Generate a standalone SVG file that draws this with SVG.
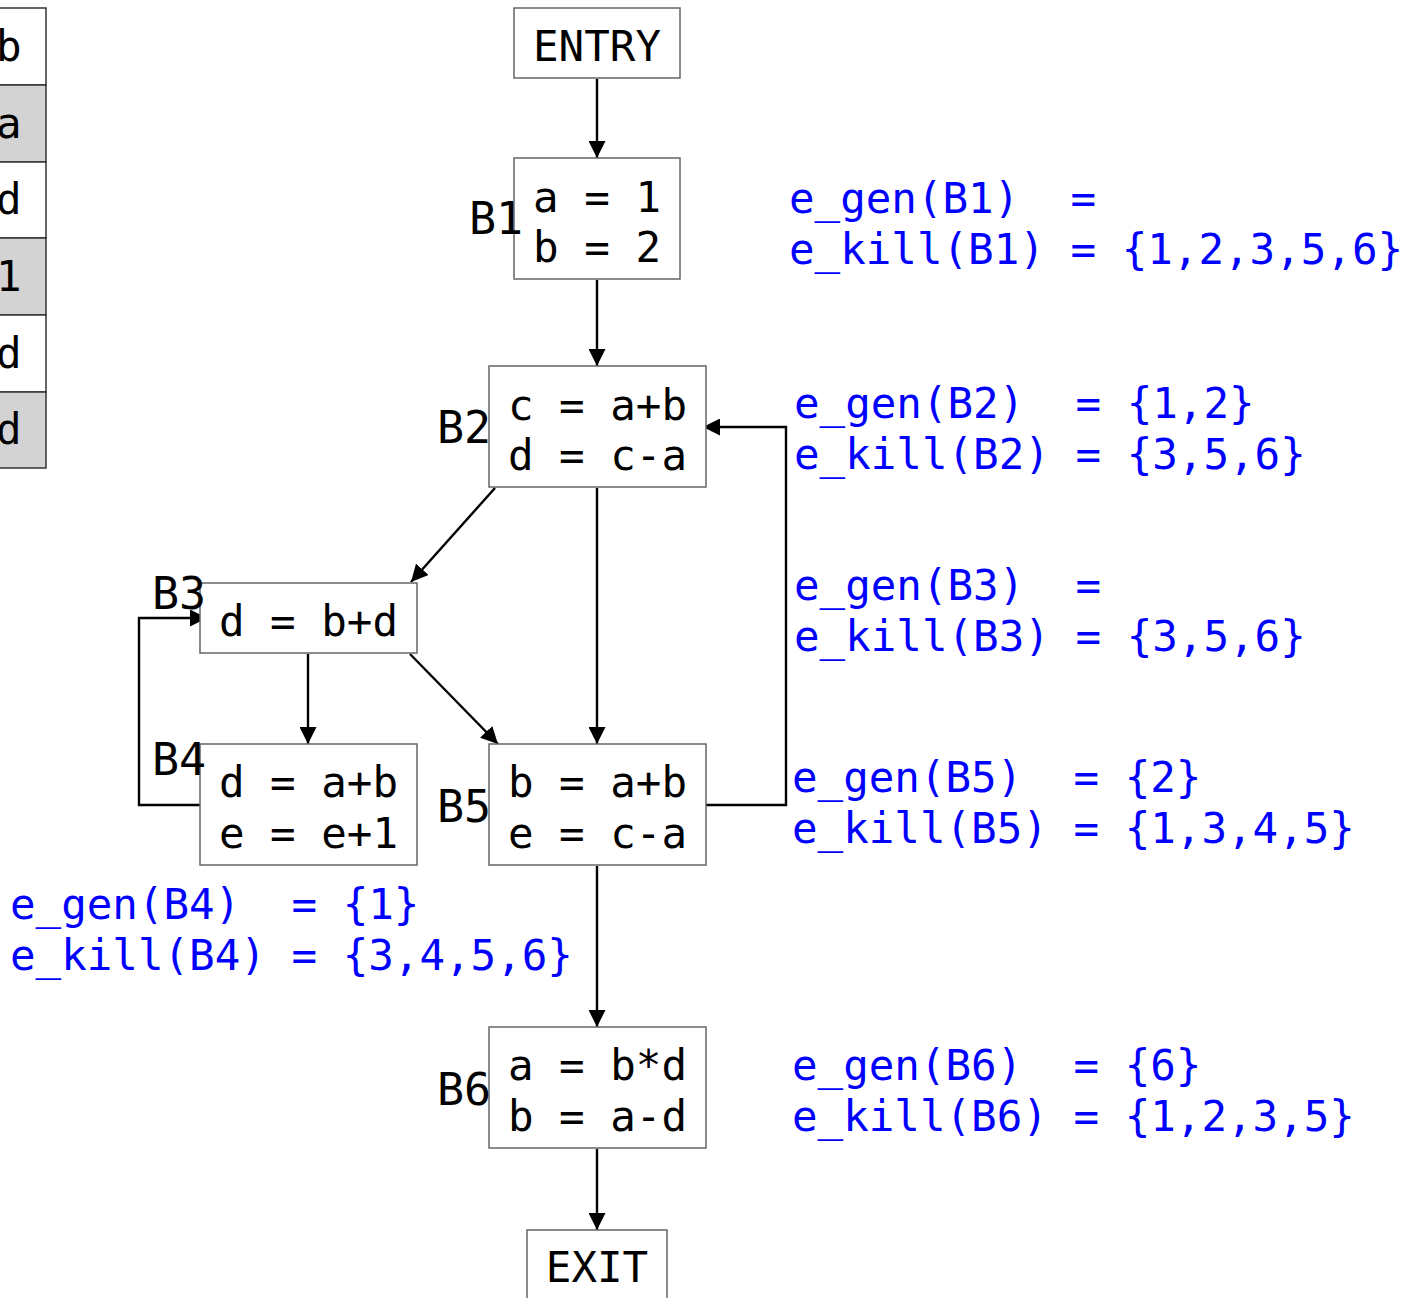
<svg xmlns="http://www.w3.org/2000/svg" width="1407" height="1298" viewBox="0 0 1407 1298">
  <style>
    .box { fill: #ffffff; stroke: #666666; stroke-width: 1.5; }
    .cell { stroke: #333333; stroke-width: 1.5; }
    .code { font-family: "DejaVu Sans Mono", "Liberation Mono", monospace; font-size: 42.5px; fill: #000000; }
    .label { font-family: "DejaVu Sans Mono", "Liberation Mono", monospace; font-size: 45px; fill: #000000; }
    .mid { text-anchor: middle; }
    .set { font-family: "DejaVu Sans Mono", "Liberation Mono", monospace; font-size: 42.5px; fill: #0000ff; white-space: pre; }
    .edge { fill: none; stroke: #000000; stroke-width: 2.4; }
  </style>
  <defs>
    <marker id="arrow" markerUnits="userSpaceOnUse" markerWidth="17" markerHeight="17" refX="17" refY="8.5" orient="auto">
      <path d="M0,0 L17,8.5 L0,17 z" fill="#000000"/>
    </marker>
  </defs>
  <rect width="1407" height="1298" fill="#ffffff"/>

  <!-- definition column at the left edge -->
  <g id="def-table">
    <rect class="cell" x="-10" y="8" width="56" height="77" fill="#ffffff"/>
    <rect class="cell" x="-10" y="85" width="56" height="77" fill="#d3d3d3"/>
    <rect class="cell" x="-10" y="162" width="56" height="76" fill="#ffffff"/>
    <rect class="cell" x="-10" y="238" width="56" height="77" fill="#d3d3d3"/>
    <rect class="cell" x="-10" y="315" width="56" height="77" fill="#ffffff"/>
    <rect class="cell" x="-10" y="392" width="56" height="76" fill="#d3d3d3"/>
    <text class="code" x="-4" y="61">b</text>
    <text class="code" x="-4" y="138">a</text>
    <text class="code" x="-4" y="214">d</text>
    <text class="code" x="-4" y="291">1</text>
    <text class="code" x="-4" y="368">d</text>
    <text class="code" x="-4" y="444">d</text>
  </g>

  <!-- connectors -->
  <g id="edges">
    <line class="edge" x1="597" y1="79" x2="597" y2="158" marker-end="url(#arrow)"/>
    <line class="edge" x1="597" y1="280" x2="597" y2="366" marker-end="url(#arrow)"/>
    <line class="edge" x1="495" y1="488" x2="411" y2="582" marker-end="url(#arrow)"/>
    <line class="edge" x1="597" y1="488" x2="597" y2="744" marker-end="url(#arrow)"/>
    <line class="edge" x1="308" y1="654" x2="308" y2="744" marker-end="url(#arrow)"/>
    <line class="edge" x1="410" y1="654" x2="498" y2="744" marker-end="url(#arrow)"/>
    <polyline class="edge" points="209,805 139,805 139,618 207,618" marker-end="url(#arrow)"/>
    <polyline class="edge" points="700,805 786,805 786,427 703,427" marker-end="url(#arrow)"/>
    <line class="edge" x1="597" y1="866" x2="597" y2="1027" marker-end="url(#arrow)"/>
    <line class="edge" x1="597" y1="1149" x2="597" y2="1230" marker-end="url(#arrow)"/>
  </g>

  <!-- basic blocks -->
  <g id="entry">
    <rect class="box" x="514" y="8" width="166" height="70"/>
    <text class="code mid" x="597" y="61">ENTRY</text>
  </g>

  <g id="B1">
    <rect class="box" x="514" y="158" width="166" height="121"/>
    <text class="code mid" x="597" y="212">a = 1</text>
    <text class="code mid" x="597" y="262">b = 2</text>
    <text class="label" x="469" y="234">B1</text>
  </g>

  <g id="B2">
    <rect class="box" x="489" y="366" width="217" height="121"/>
    <text class="code mid" x="597.5" y="420">c = a+b</text>
    <text class="code mid" x="597.5" y="470">d = c-a</text>
    <text class="label" x="437" y="443">B2</text>
  </g>

  <g id="B3">
    <rect class="box" x="200" y="583" width="217" height="70"/>
    <text class="code mid" x="308.5" y="636">d = b+d</text>
    <text class="label" x="152" y="609">B3</text>
  </g>

  <g id="B4">
    <rect class="box" x="200" y="744" width="217" height="121"/>
    <text class="code mid" x="308.5" y="797">d = a+b</text>
    <text class="code mid" x="308.5" y="848">e = e+1</text>
    <text class="label" x="152" y="775">B4</text>
  </g>

  <g id="B5">
    <rect class="box" x="489" y="744" width="217" height="121"/>
    <text class="code mid" x="597.5" y="797">b = a+b</text>
    <text class="code mid" x="597.5" y="848">e = c-a</text>
    <text class="label" x="437" y="822">B5</text>
  </g>

  <g id="B6">
    <rect class="box" x="489" y="1027" width="217" height="121"/>
    <text class="code mid" x="597.5" y="1080">a = b*d</text>
    <text class="code mid" x="597.5" y="1131">b = a-d</text>
    <text class="label" x="437" y="1105">B6</text>
  </g>

  <g id="exit">
    <rect class="box" x="527" y="1230" width="140" height="80"/>
    <text class="code mid" x="597" y="1282">EXIT</text>
  </g>

  <!-- gen / kill sets per block -->
  <g id="sets">
    <text class="set" x="789" y="213">e_gen(B1)  =</text>
    <text class="set" x="789" y="264">e_kill(B1) = {1,2,3,5,6}</text>
    <text class="set" x="794" y="418">e_gen(B2)  = {1,2}</text>
    <text class="set" x="794" y="469">e_kill(B2) = {3,5,6}</text>
    <text class="set" x="794" y="600">e_gen(B3)  =</text>
    <text class="set" x="794" y="651">e_kill(B3) = {3,5,6}</text>
    <text class="set" x="792" y="792">e_gen(B5)  = {2}</text>
    <text class="set" x="792" y="843">e_kill(B5) = {1,3,4,5}</text>
    <text class="set" x="10" y="919">e_gen(B4)  = {1}</text>
    <text class="set" x="10" y="970">e_kill(B4) = {3,4,5,6}</text>
    <text class="set" x="792" y="1080">e_gen(B6)  = {6}</text>
    <text class="set" x="792" y="1131">e_kill(B6) = {1,2,3,5}</text>
  </g>
</svg>
